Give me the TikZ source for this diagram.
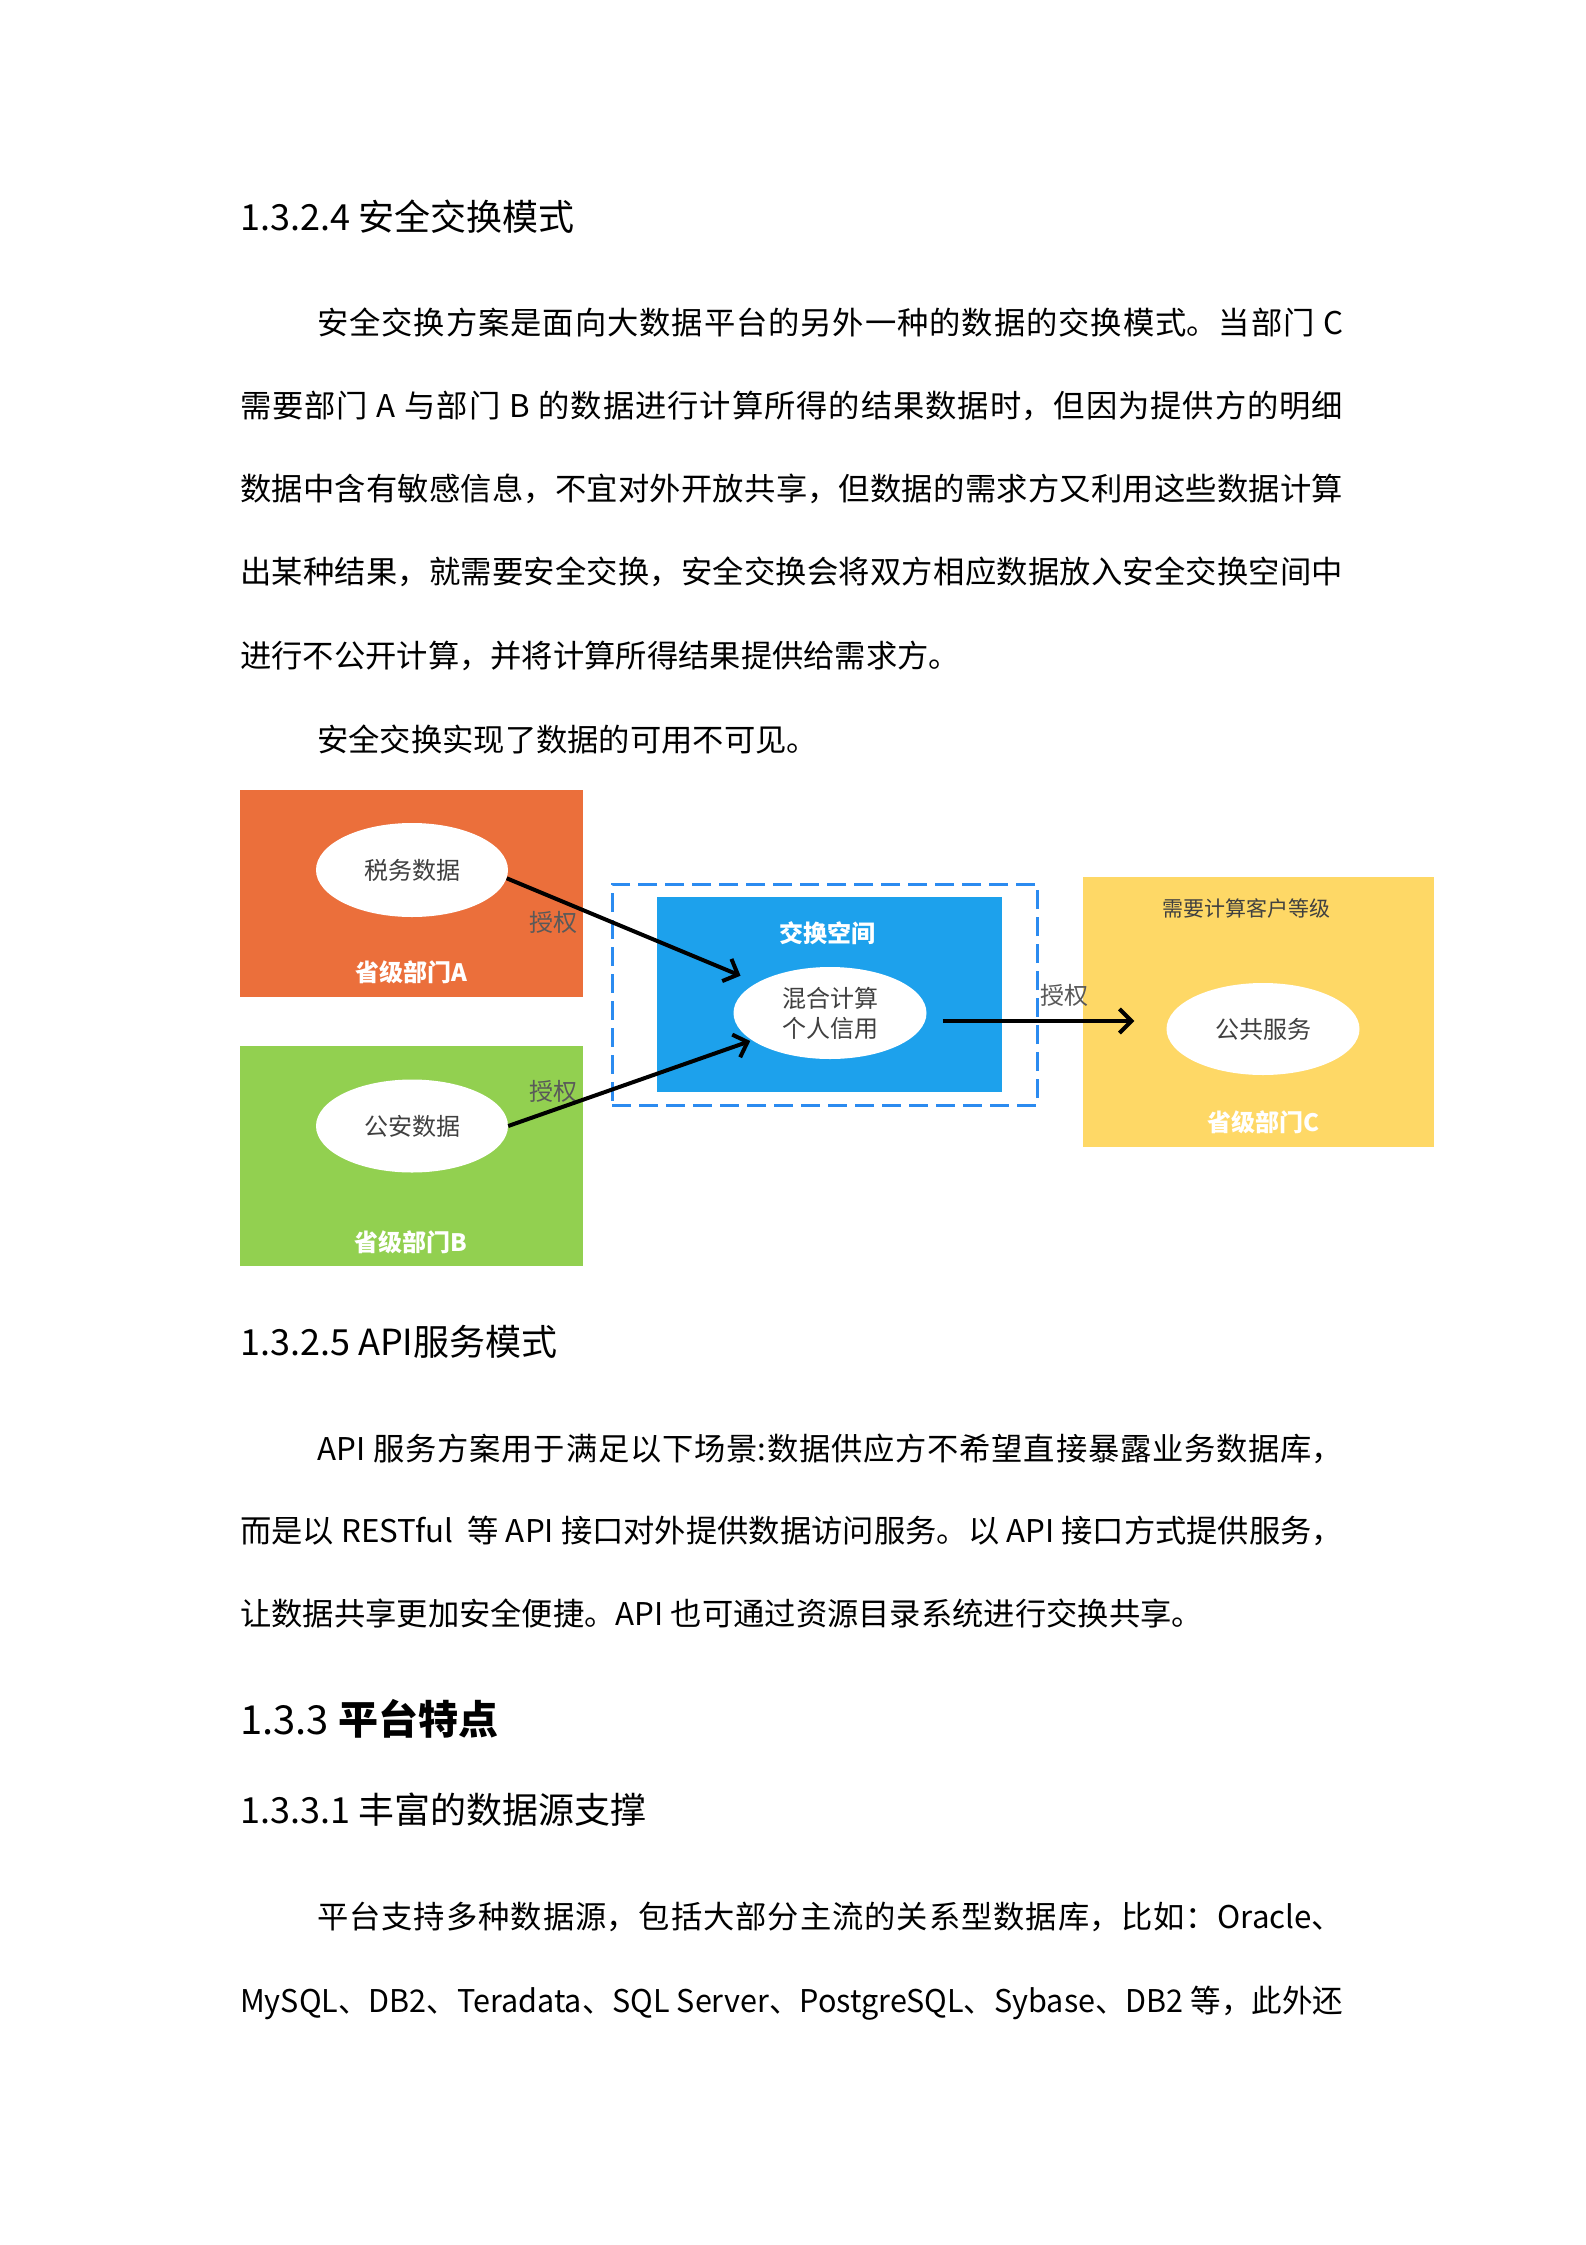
\documentclass[tikz,border=0pt]{standalone}
\usepackage{fontspec}
\usepackage{graphicx}
\setmainfont{Noto Sans CJK SC}
\usetikzlibrary{arrows.meta,shapes.geometric}
\XeTeXlinebreaklocale "zh"
\XeTeXlinebreakskip=0pt plus 2pt
\tolerance=9999
\definecolor{deptA}{HTML}{EB6F3B}
\definecolor{deptB}{HTML}{92D050}
\definecolor{deptC}{HTML}{FED866}
\definecolor{xchg}{HTML}{1DA1EC}
\definecolor{dashblue}{HTML}{2B8BF0}
\definecolor{ink}{HTML}{404040}
\definecolor{authgray}{HTML}{595959}
\newcommand{\jline}[2]{\parbox[b]{#1pt}{\parfillskip=0pt\relax #2}}
\tikzset{
  bodytext/.style={anchor=base west, inner sep=0pt, font=\fontsize{31.3}{40}\selectfont},
  headtext/.style={anchor=base west, inner sep=0pt, font=\fontsize{36}{44}\selectfont},
  bigheadtext/.style={anchor=base west, inner sep=0pt, font=\fontsize{40}{48}\selectfont},
  deptbox/.style={rectangle, draw=none, inner sep=0pt},
  oval/.style={ellipse, fill=white, draw=none, inner sep=0pt, text=ink,
    align=center, font=\fontsize{24}{30}\selectfont},
  deptlabel/.style={inner sep=0pt, text=white, font=\fontsize{24}{30}\selectfont\bfseries},
  authlabel/.style={inner sep=0pt, text=authgray, font=\fontsize{24}{30}\selectfont},
  arr/.style={draw=black, line width=4pt, -{Straight Barb[length=12pt,width=24pt]}},
}
\begin{document}
\begin{tikzpicture}[x=1pt, y=-1pt]
\fill[white] (0,0) rectangle (1586,2245);
\useasboundingbox (0,0) rectangle (1586,2245);

% ---- text above the diagram ----
\node[headtext] (h1) at (240,230) {1.3.2.4 安全交换模式};
\node[bodytext] (p1a) at (317,334) {\jline{1026}{安全交换方案是面向大数据平台的另外一种的数据的交换模式。当部门 C}};
\node[bodytext] (p1b) at (240,417) {\jline{1103}{需要部门 A 与部门 B 的数据进行计算所得的结果数据时，但因为提供方的明细}};
\node[bodytext] (p1c) at (240,500) {\jline{1103}{数据中含有敏感信息，不宜对外开放共享，但数据的需求方又利用这些数据计算}};
\node[bodytext] (p1d) at (240,583) {\jline{1103}{出某种结果，就需要安全交换，安全交换会将双方相应数据放入安全交换空间中}};
\node[bodytext] (p1e) at (240,667) {进行不公开计算，并将计算所得结果提供给需求方。};
\node[bodytext] (p2) at (317,751) {安全交换实现了数据的可用不可见。};

% ---- diagram ----
\node[deptbox, fill=deptA, minimum width=343pt, minimum height=207pt] (A) at (411.5,893.5) {};
\node[deptbox, fill=deptB, minimum width=343pt, minimum height=220pt] (B) at (411.5,1156) {};
\node[deptbox, fill=deptC, minimum width=351pt, minimum height=270pt] (C) at (1258.5,1012) {};
\node[deptbox, draw=dashblue, line width=3pt, dash pattern=on 19pt off 8pt,
      minimum width=425pt, minimum height=221pt] (X) at (824.5,994.5) {};
\node[deptbox, fill=xchg, minimum width=345pt, minimum height=195pt] (S) at (829.5,994.5) {};

\node[oval, minimum width=192pt, minimum height=94pt] (tax) at (412,870) {税务数据};
\node[oval, minimum width=192pt, minimum height=93pt] (police) at (412,1126) {公安数据};
\node[oval, minimum width=193pt, minimum height=92pt] (mix) at (830,1013) {混合计算\\个人信用};
\node[oval, minimum width=193pt, minimum height=92pt] (pub) at (1263,1029) {公共服务};

\node[deptlabel] (la) at (411,972) {省级部门A};
\node[deptlabel] (lb) at (411,1242) {省级部门B};
\node[deptlabel] (lc) at (1263,1122) {省级部门C};
\node[deptlabel] (ls) at (827,933) {交换空间};
\node[inner sep=0pt, text=ink, font=\fontsize{21}{26}\selectfont] (need) at (1246,908) {需要计算客户等级};

\node[authlabel] (auA) at (553,922) {授权};
\node[authlabel] (auB) at (553,1091) {授权};
\node[authlabel] (auC) at (1064,995) {授权};

\draw[arr, shorten >=18pt] (tax.-5) -- (mix);
\draw[arr, shorten >=2pt] (police.east) -- (mix);
\draw[arr] ([shift={(16,8)}]mix.east) -- ([shift={(-32,-8)}]pub.west);

% ---- text below the diagram ----
\node[headtext] (h2) at (240,1355) {1.3.2.5 API服务模式};
\node[bodytext] (q1) at (317,1460) {\jline{1026}{API 服务方案用于满足以下场景:数据供应方不希望直接暴露业务数据库，}};
\node[bodytext] (q2) at (240,1542) {\jline{1103}{而是以 RESTful\ \ 等 API 接口对外提供数据访问服务。以 API 接口方式提供服务，}};
\node[bodytext] (q3) at (240,1625) {让数据共享更加安全便捷。API 也可通过资源目录系统进行交换共享。};
\node[bigheadtext] (h3) at (240,1734) {1.3.3 {\bfseries 平台特点}};
\node[headtext] (h4) at (240,1823) {1.3.3.1 丰富的数据源支撑};
\node[bodytext] (r1) at (317,1928) {\jline{1026}{平台支持多种数据源，包括大部分主流的关系型数据库，比如：Oracle、}};
\node[bodytext] (r2) at (240,2012) {\resizebox{1103pt}{\height}{MySQL、DB2、Teradata、SQL Server、PostgreSQL、Sybase、DB2 等，此外还}};
\end{tikzpicture}
\end{document}
